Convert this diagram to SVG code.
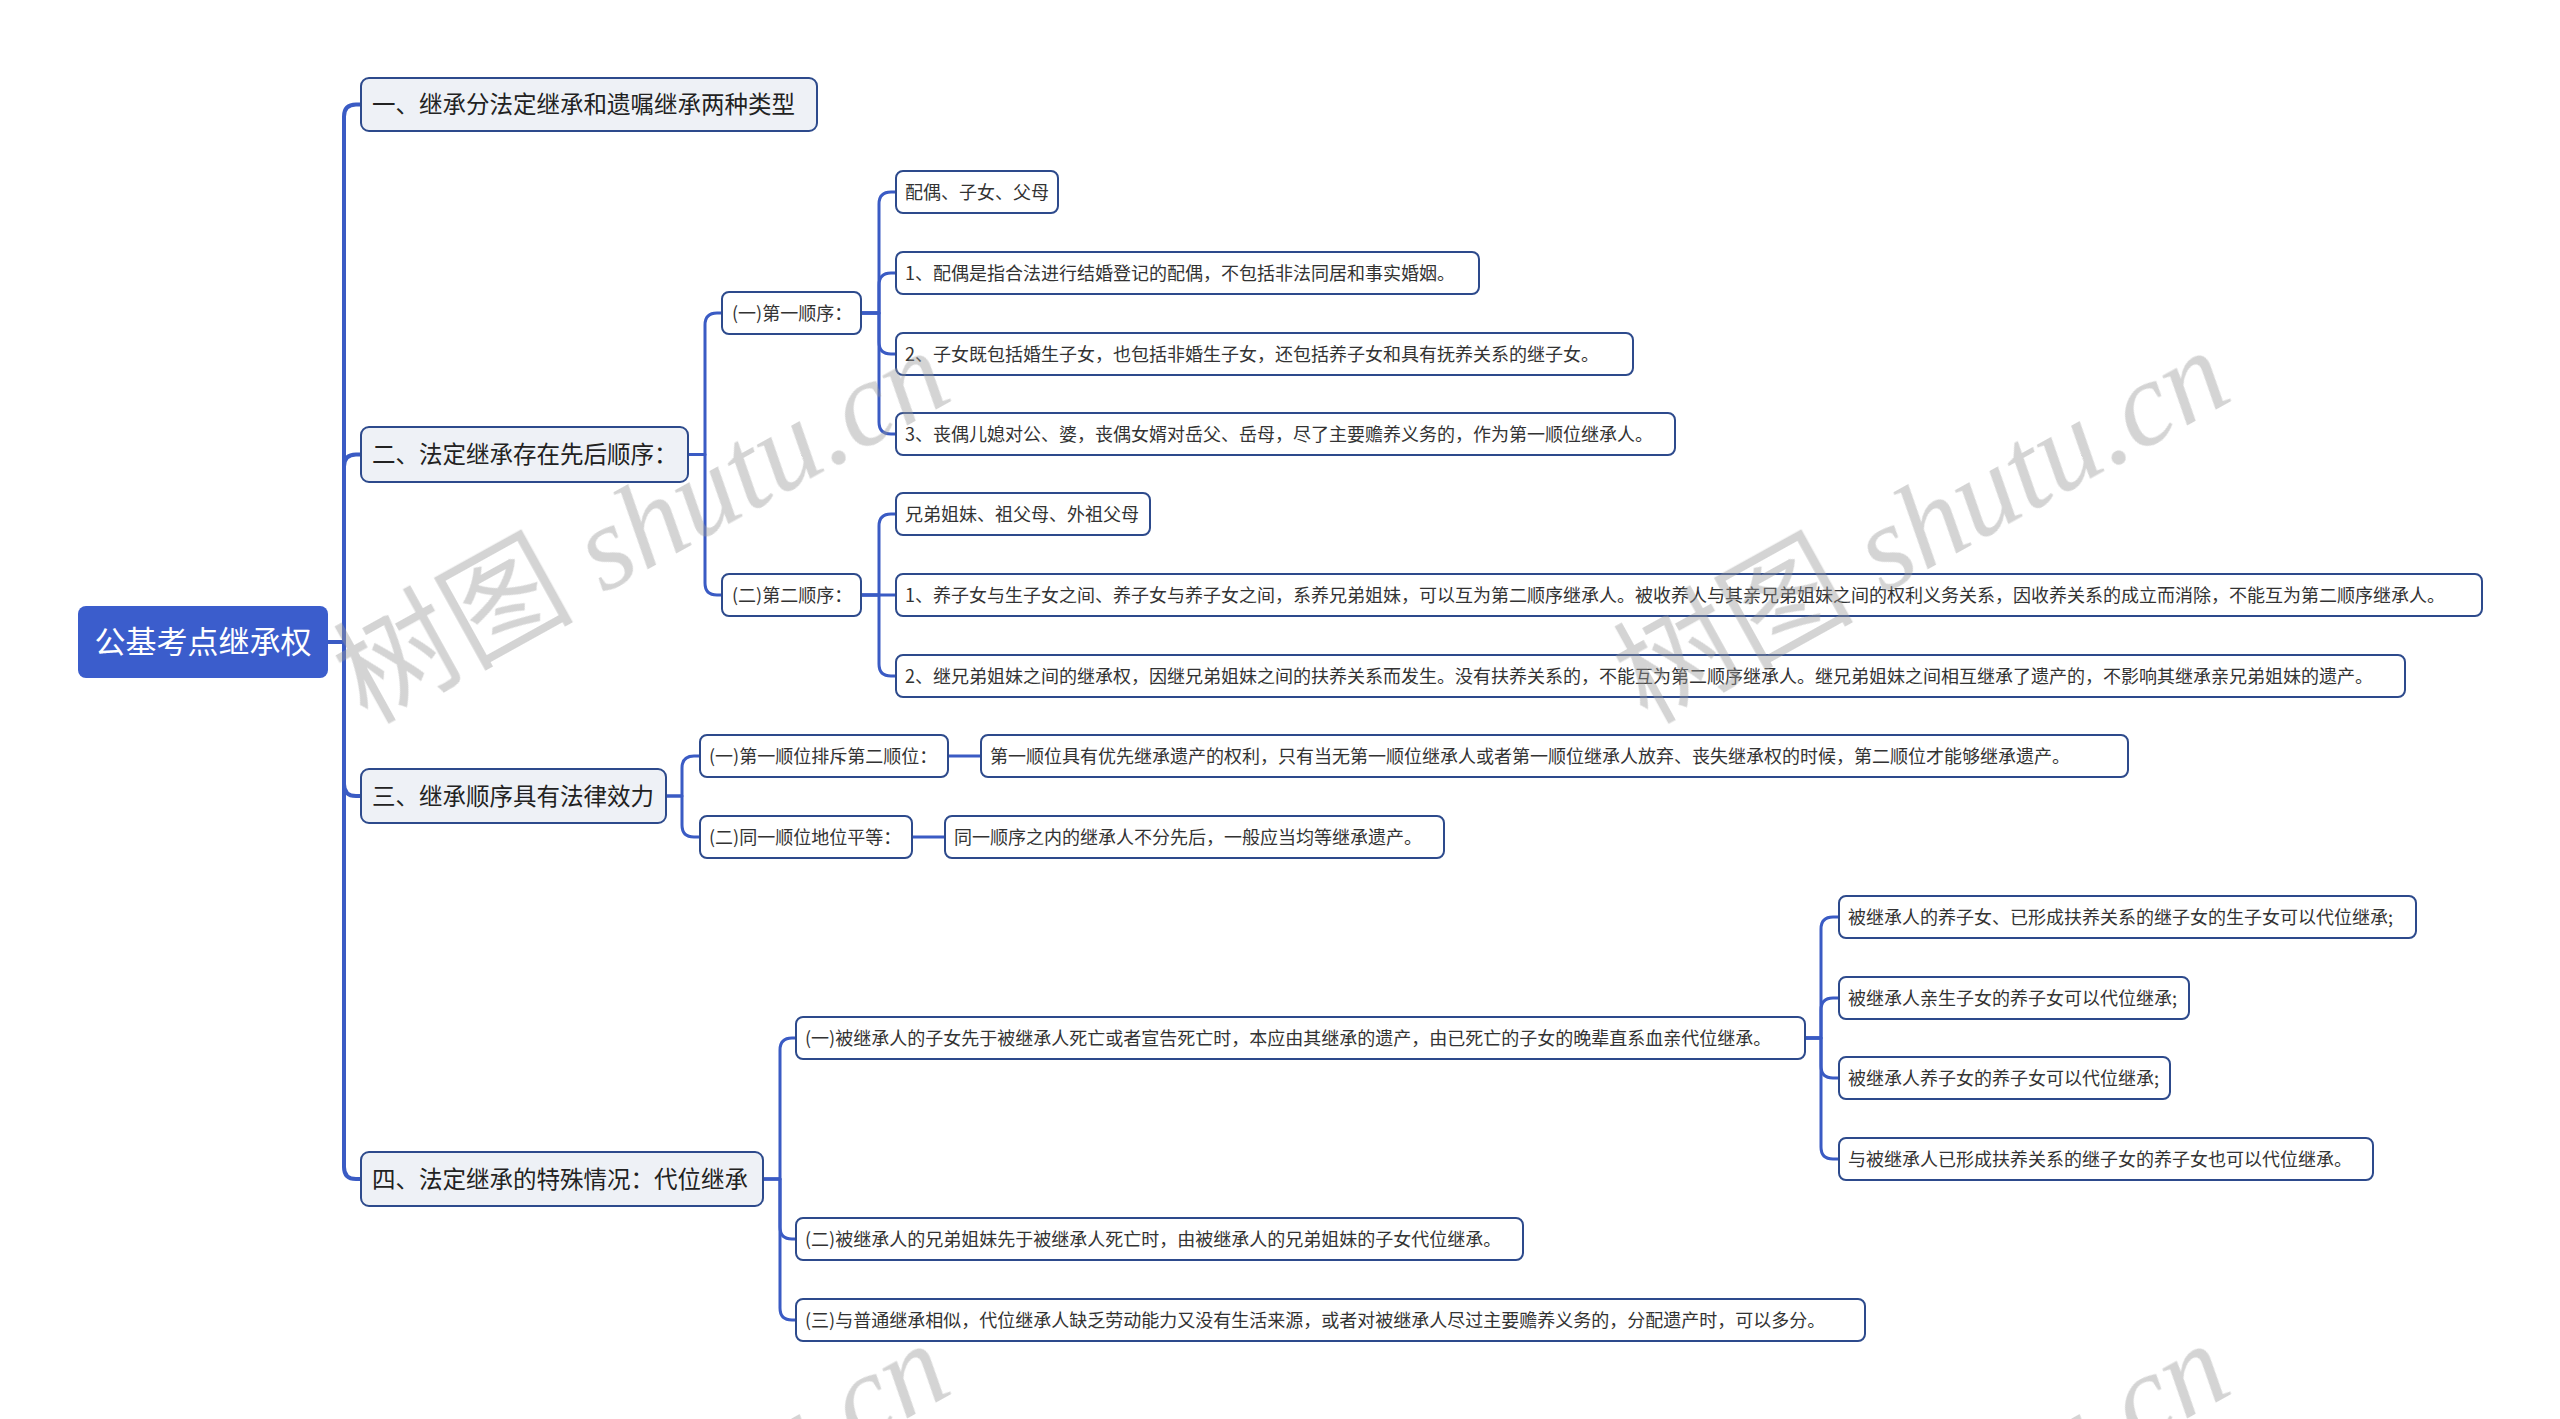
<svg xmlns="http://www.w3.org/2000/svg" width="2560" height="1419" viewBox="0 0 2560 1419">
<style>
.bg{fill:#ffffff}
.root{fill:#3b5dcc}
.rt{fill:#ffffff;font-family:"Noto Sans CJK SC","Microsoft YaHei",sans-serif;font-size:31px}
.l1{fill:#eef1f6;stroke:#2d4a8c;stroke-width:2}
.l1t{fill:#222222;font-family:"Noto Sans CJK SC",sans-serif;font-size:23.5px}
.nd{fill:#ffffff;stroke:#2d4a8c;stroke-width:2}
.t{fill:#333333;font-family:"Noto Sans CJK SC",sans-serif;font-size:18px}
.c{fill:none;stroke:#3a5bc4;stroke-width:3;stroke-linecap:round;stroke-linejoin:round}
.trunk{stroke-width:4}
.wm{fill:#9a9a9a;opacity:0.42;font-family:"Liberation Serif","Noto Sans CJK SC",serif;font-size:120px}
</style>
<rect class="bg" x="0" y="0" width="2560" height="1419"/>

<g id="connectors">
  <g class="c trunk">
    <path d="M328,642 H344 V116.5 Q344,104.5 356,104.5 H361"/>
    <path d="M328,642 H344 V466.5 Q344,454.5 356,454.5 H361"/>
    <path d="M328,642 H344 V784 Q344,796 356,796 H361"/>
    <path d="M328,642 H344 V1167 Q344,1179 356,1179 H361"/>
  </g>
  <g class="c">
    <path d="M688,454.5 H705 V325 Q705,313 717,313 H722"/>
    <path d="M688,454.5 H705 V583 Q705,595 717,595 H722"/>
    <path d="M861,313 H879 V204 Q879,192 891,192 H896"/>
    <path d="M861,313 H879 V285 Q879,273 891,273 H896"/>
    <path d="M861,313 H879 V342 Q879,354 891,354 H896"/>
    <path d="M861,313 H879 V422 Q879,434 891,434 H896"/>
    <path d="M861,595 H879 V526 Q879,514 891,514 H896"/>
    <path d="M861,595 H896"/>
    <path d="M861,595 H879 V664 Q879,676 891,676 H896"/>
    <path d="M666,796 H682 V768 Q682,756 694,756 H700"/>
    <path d="M666,796 H682 V825 Q682,837 694,837 H700"/>
    <path d="M948,756 H981"/>
    <path d="M912,837 H945"/>
    <path d="M763,1179 H780 V1050 Q780,1038 792,1038 H796"/>
    <path d="M763,1179 H780 V1227 Q780,1239 792,1239 H796"/>
    <path d="M763,1179 H780 V1308 Q780,1320 792,1320 H796"/>
    <path d="M1805,1038 H1821 V929 Q1821,917 1833,917 H1839"/>
    <path d="M1805,1038 H1821 V1010 Q1821,998 1833,998 H1839"/>
    <path d="M1805,1038 H1821 V1066 Q1821,1078 1833,1078 H1839"/>
    <path d="M1805,1038 H1821 V1147 Q1821,1159 1833,1159 H1839"/>
  </g>
</g>

<g id="root"><rect class="root" x="78" y="606" width="250" height="72" rx="8"/><text class="rt" x="203" y="653" text-anchor="middle">公基考点继承权</text></g>

<g id="n1"><rect class="l1" x="361" y="78" width="456" height="53" rx="8"/><text class="l1t" x="372" y="113">一、继承分法定继承和遗嘱继承两种类型</text></g>
<g id="n2"><rect class="l1" x="361" y="427" width="327" height="55" rx="8"/><text class="l1t" x="372" y="463">二、法定继承存在先后顺序：</text></g>
<g id="n3"><rect class="l1" x="361" y="769" width="305" height="54" rx="8"/><text class="l1t" x="372" y="804.5">三、继承顺序具有法律效力</text></g>
<g id="n4"><rect class="l1" x="361" y="1152" width="402" height="54" rx="8"/><text class="l1t" x="372" y="1187.5">四、法定继承的特殊情况：代位继承</text></g>

<g id="n2a"><rect class="nd" x="722" y="292" width="139" height="42" rx="7"/><text class="t" x="732" y="319.5">(一)第一顺序：</text></g>
<g id="n2b"><rect class="nd" x="722" y="574" width="139" height="42" rx="7"/><text class="t" x="732" y="601.5">(二)第二顺序：</text></g>

<g id="n2a1"><rect class="nd" x="896" y="171" width="162" height="42" rx="7"/><text class="t" x="905" y="198.5">配偶、子女、父母</text></g>
<g id="n2a2"><rect class="nd" x="896" y="252" width="583" height="42" rx="7"/><text class="t" x="905" y="279.5">1、配偶是指合法进行结婚登记的配偶，不包括非法同居和事实婚姻。</text></g>
<g id="n2a3"><rect class="nd" x="896" y="333" width="737" height="42" rx="7"/><text class="t" x="905" y="360.5">2、子女既包括婚生子女，也包括非婚生子女，还包括养子女和具有抚养关系的继子女。</text></g>
<g id="n2a4"><rect class="nd" x="896" y="413" width="779" height="42" rx="7"/><text class="t" x="905" y="440.5">3、丧偶儿媳对公、婆，丧偶女婿对岳父、岳母，尽了主要赡养义务的，作为第一顺位继承人。</text></g>

<g id="n2b1"><rect class="nd" x="896" y="493" width="254" height="42" rx="7"/><text class="t" x="905" y="520.5">兄弟姐妹、祖父母、外祖父母</text></g>
<g id="n2b2"><rect class="nd" x="896" y="574" width="1586" height="42" rx="7"/><text class="t" x="905" y="601.5">1、养子女与生子女之间、养子女与养子女之间，系养兄弟姐妹，可以互为第二顺序继承人。被收养人与其亲兄弟姐妹之间的权利义务关系，因收养关系的成立而消除，不能互为第二顺序继承人。</text></g>
<g id="n2b3"><rect class="nd" x="896" y="655" width="1509" height="42" rx="7"/><text class="t" x="905" y="682.5">2、继兄弟姐妹之间的继承权，因继兄弟姐妹之间的扶养关系而发生。没有扶养关系的，不能互为第二顺序继承人。继兄弟姐妹之间相互继承了遗产的，不影响其继承亲兄弟姐妹的遗产。</text></g>

<g id="n3a"><rect class="nd" x="700" y="735" width="248" height="42" rx="7"/><text class="t" x="709" y="762.5">(一)第一顺位排斥第二顺位：</text></g>
<g id="n3a1"><rect class="nd" x="981" y="735" width="1147" height="42" rx="7"/><text class="t" x="990" y="762.5">第一顺位具有优先继承遗产的权利，只有当无第一顺位继承人或者第一顺位继承人放弃、丧失继承权的时候，第二顺位才能够继承遗产。</text></g>
<g id="n3b"><rect class="nd" x="700" y="816" width="212" height="42" rx="7"/><text class="t" x="709" y="843.5">(二)同一顺位地位平等：</text></g>
<g id="n3b1"><rect class="nd" x="945" y="816" width="499" height="42" rx="7"/><text class="t" x="954" y="843.5">同一顺序之内的继承人不分先后，一般应当均等继承遗产。</text></g>

<g id="n4a"><rect class="nd" x="796" y="1017" width="1009" height="42" rx="7"/><text class="t" x="805" y="1044.5">(一)被继承人的子女先于被继承人死亡或者宣告死亡时，本应由其继承的遗产，由已死亡的子女的晚辈直系血亲代位继承。</text></g>
<g id="n4a1"><rect class="nd" x="1839" y="896" width="577" height="42" rx="7"/><text class="t" x="1848" y="923.5">被继承人的养子女、已形成扶养关系的继子女的生子女可以代位继承;</text></g>
<g id="n4a2"><rect class="nd" x="1839" y="977" width="350" height="42" rx="7"/><text class="t" x="1848" y="1004.5">被继承人亲生子女的养子女可以代位继承;</text></g>
<g id="n4a3"><rect class="nd" x="1839" y="1057" width="331" height="42" rx="7"/><text class="t" x="1848" y="1084.5">被继承人养子女的养子女可以代位继承;</text></g>
<g id="n4a4"><rect class="nd" x="1839" y="1138" width="534" height="42" rx="7"/><text class="t" x="1848" y="1165.5">与被继承人已形成扶养关系的继子女的养子女也可以代位继承。</text></g>
<g id="n4b"><rect class="nd" x="796" y="1218" width="727" height="42" rx="7"/><text class="t" x="805" y="1245.5">(二)被继承人的兄弟姐妹先于被继承人死亡时，由被继承人的兄弟姐妹的子女代位继承。</text></g>
<g id="n4c"><rect class="nd" x="796" y="1299" width="1069" height="42" rx="7"/><text class="t" x="805" y="1326.5">(三)与普通继承相似，代位继承人缺乏劳动能力又没有生活来源，或者对被继承人尽过主要赡养义务的，分配遗产时，可以多分。</text></g>

<g id="watermarks" class="wm">
  <text x="641" y="525" dy="0.35em" text-anchor="middle" transform="rotate(-29 641 525)">树图 <tspan font-style="italic">shutu.cn</tspan></text>
  <text x="1921" y="525" dy="0.35em" text-anchor="middle" transform="rotate(-29 1921 525)">树图 <tspan font-style="italic">shutu.cn</tspan></text>
  <text x="641" y="1518" dy="0.35em" text-anchor="middle" transform="rotate(-29 641 1518)">树图 <tspan font-style="italic">shutu.cn</tspan></text>
  <text x="1921" y="1518" dy="0.35em" text-anchor="middle" transform="rotate(-29 1921 1518)">树图 <tspan font-style="italic">shutu.cn</tspan></text>
</g>
</svg>
